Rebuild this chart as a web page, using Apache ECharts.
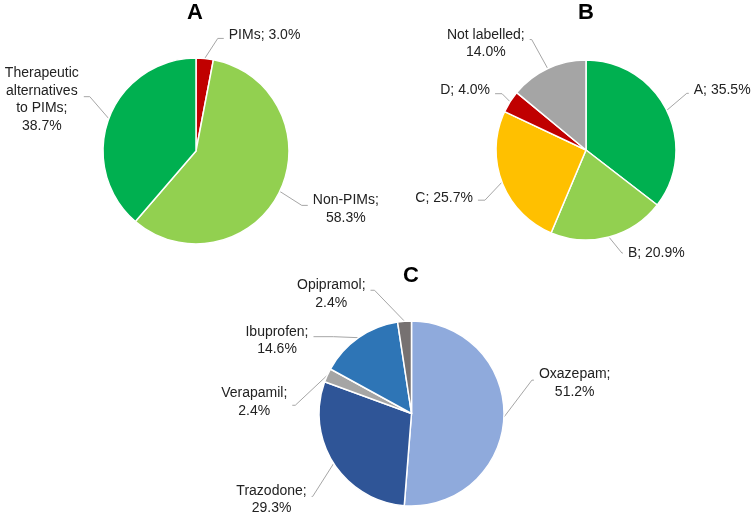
<!DOCTYPE html>
<html lang="en">
<head>
<meta charset="UTF-8">
<title>PIMs pie charts</title>
<script src="https://cdn.jsdelivr.net/npm/echarts@6/dist/echarts.min.js"></script>
<style>
    html, body { margin: 0; padding: 0; background: #fff; }
    #main { width: 751px; height: 517px; }
</style>
</head>
<body>
<div id="main"></div>
<script>
// chart A
var aNames = ['PIMs', 'Non-PIMs', 'Therapeutic\nalternatives\nto PIMs'];
var aValues = [3.0, 58.3, 38.7];
var aSep = [' ', '\n', '\n'];
// chart B
var bNames = ['A', 'B', 'C', 'D', 'Not labelled'];
var bValues = [35.5, 20.9, 25.7, 4.0, 14.0];
var bSep = [' ', ' ', ' ', ' ', '\n'];
// chart C
var cNames = ['Oxazepam', 'Trazodone', 'Verapamil', 'Ibuprofen', 'Opipramol'];
var cValues = [51.2, 29.3, 2.4, 14.6, 2.4];
var cSep = ['\n', '\n', '\n', '\n', '\n'];

var aColors = ['#C00000', '#92D050', '#00B050'];
var bColors = ['#00B050', '#92D050', '#FFC000', '#C00000', '#A5A5A5'];
var cColors = ['#8FAADC', '#2F5597', '#A5A5A5', '#2E75B6', '#767171'];

// leader lines: elbow offset from slice edge [dx, dy], tail length, text y offset
var aGuide = [[13, -20, 6, -3], [22, 14, 6, 4], [-19, -22, 6, 3]];
var bGuide = [[20, -17, 2, -3], [13, 16, 1, 0], [-17, 18, 7, -2], [-8, -8, 7, -4], [-16, -29, 2, 4]];
var cGuide = [[28, -37, 2, 3], [-21, 33, 1, 3], [-32, 30, 3, -3], [-25, -1, 20, 4], [-30, -31, 4, 4]];

var FONT = '"Liberation Sans", Arial, sans-serif';

function makeData(names, values, colors) {
    return names.map(function (n, i) {
        return { name: n, value: values[i], itemStyle: { color: colors[i] } };
    });
}

function makeLabel(seps) {
    return {
        show: true,
        position: 'outside',
        formatter: function (p) {
            var txt = p.name + ';' + seps[p.dataIndex] + p.value.toFixed(1) + '%';
            return txt.split('\n').map(function (s) { return '{c|' + s + '}'; }).join('\n');
        },
        rich: {
            c: { align: 'center', fontSize: 14, lineHeight: 17.5, color: '#222222', fontFamily: FONT }
        }
    };
}

function makeLayout(guide) {
    return function (params) {
        var pts = params.labelLinePoints;
        var g = guide[params.dataIndex];
        if (!pts || !g) return {};
        var side = params.align === 'right' ? -1 : 1;
        var edge = pts[0];
        var elbow = [edge[0] + g[0], edge[1] + g[1]];
        var end = [elbow[0] + side * g[2], elbow[1]];
        var r = params.labelRect;
        var x0 = side > 0 ? r.x : r.x + r.width;
        var y0 = r.y + r.height / 2;
        return {
            x: x0 + end[0] - pts[2][0],
            y: y0 + end[1] - pts[2][1] + g[3],
            labelLinePoints: [edge, elbow, end]
        };
    };
}

function makePie(center, radius, names, values, colors, seps, guide) {
    return {
        type: 'pie',
        center: center,
        radius: radius,
        startAngle: 90,
        clockwise: true,
        avoidLabelOverlap: false,
        silent: true,
        data: makeData(names, values, colors),
        itemStyle: { borderColor: '#ffffff', borderWidth: 1.5 },
        label: makeLabel(seps),
        labelLine: { show: true, length: 15, length2: 5, smooth: false, lineStyle: { color: '#A6A6A6', width: 1 } },
        labelLayout: makeLayout(guide),
        emphasis: { disabled: true }
    };
}

var myChart = echarts.init(document.getElementById('main'));
var titleStyle = { fontSize: 22, fontWeight: 'bold', color: '#000', fontFamily: FONT };
var option = {
    animation: false,
    backgroundColor: '#ffffff',
    title: [
        { text: 'A', left: 195, top: 2, padding: 0, textAlign: 'center', textStyle: titleStyle },
        { text: 'B', left: 586, top: 2, padding: 0, textAlign: 'center', textStyle: titleStyle },
        { text: 'C', left: 411, top: 265, padding: 0, textAlign: 'center', textStyle: titleStyle }
    ],
    series: [
        makePie([196, 151], 93, aNames, aValues, aColors, aSep, aGuide),
        makePie([586, 150], 90, bNames, bValues, bColors, bSep, bGuide),
        makePie([411.5, 413.5], 92.5, cNames, cValues, cColors, cSep, cGuide)
    ]
};
myChart.setOption(option);
</script>
</body>
</html>
